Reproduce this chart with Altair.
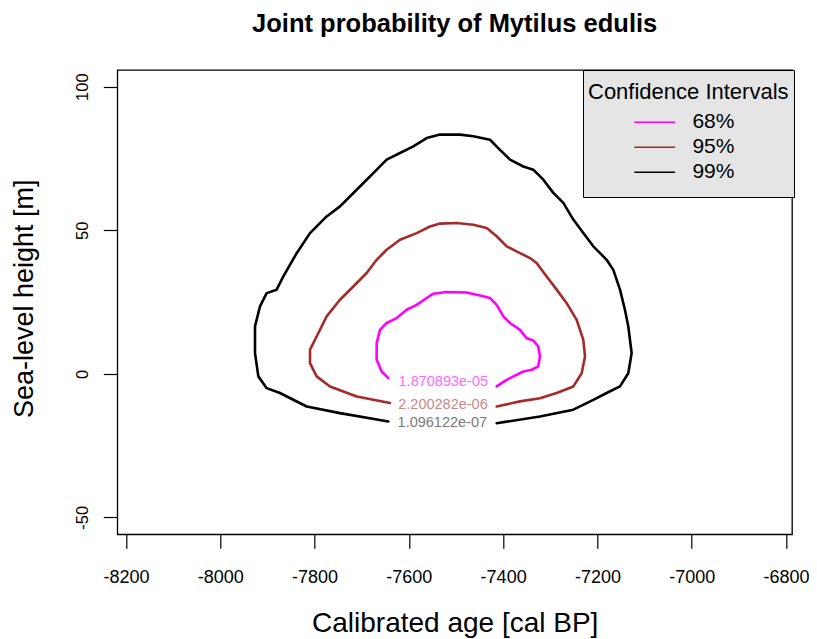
import altair as alt
import pandas as pd

# ---------------- data ----------------
levels = ["68%", "95%", "99%"]
line_colors = ["#ff00ff", "#a52a2a", "#000000"]

c68_x = [-7643.5, -7657.7, -7668.3, -7668.3, -7661.2, -7647.1, -7625.9, -7604.6, -7583.4,
         -7562.2, -7548.1, -7519.8, -7477.4, -7449.1, -7427.9, -7413.7, -7399.6, -7385.4,
         -7364.2, -7350.1, -7336.0, -7325.4, -7321.8, -7325.4, -7339.5, -7357.2, -7392.5, -7413.7]
c68_y = [-1.5, 0.8, 4.9, 10.7, 15.3, 17.7, 19.4, 22.3, 24.0,
         26.4, 27.9, 28.5, 28.3, 27.3, 26.4, 24.0, 20.0, 17.7,
         15.3, 12.4, 11.6, 9.5, 6.0, 2.6, 1.4, 0.8, -2.1, -4.4]

c95_x = [-7640.0, -7710.7, -7767.3, -7795.6, -7809.7, -7809.7, -7795.6, -7774.4, -7746.1,
         -7717.8, -7689.5, -7668.3, -7647.1, -7618.8, -7583.4, -7555.2, -7533.9, -7498.6,
         -7463.2, -7434.9, -7413.7, -7392.5, -7364.2, -7343.0, -7328.9, -7307.7, -7286.4,
         -7265.2, -7244.0, -7229.9, -7226.3, -7233.4, -7251.1, -7286.4, -7321.8, -7364.2, -7413.7]
c95_y = [-10.2, -7.9, -4.4, -0.9, 3.7, 8.4, 13.0, 20.0, 25.8,
         30.4, 35.1, 39.7, 43.2, 46.7, 49.0, 51.3, 52.3, 52.5,
         51.9, 50.8, 47.9, 44.4, 42.0, 40.3, 38.6, 33.9, 29.3,
         24.6, 18.8, 11.8, 6.0, 0.2, -4.4, -6.7, -8.5, -9.6, -11.4]

c99_x = [-7643.5, -7746.1, -7816.8, -7873.4, -7901.6, -7919.3, -7926.4, -7926.4, -7915.8,
         -7901.6, -7880.4, -7866.3, -7838.0, -7809.7, -7774.4, -7746.1, -7710.7, -7675.4,
         -7647.1, -7618.8, -7590.5, -7562.2, -7533.9, -7491.5, -7463.2, -7427.9, -7406.7,
         -7385.4, -7357.2, -7336.0, -7314.7, -7293.5, -7272.3, -7251.1, -7229.9, -7208.7,
         -7180.4, -7166.3, -7152.1, -7141.6, -7134.5, -7127.4, -7134.5, -7152.1, -7180.4,
         -7208.7, -7251.1, -7321.8, -7413.7]
c99_y = [-16.6, -13.7, -11.4, -6.7, -5.0, -0.9, 7.2, 16.5, 23.5,
         28.1, 29.3, 33.9, 42.0, 49.0, 54.8, 58.3, 64.1, 69.9,
         74.6, 76.9, 79.2, 82.1, 83.3, 83.3, 82.7, 81.5, 78.0,
         74.6, 72.2, 71.1, 67.6, 63.0, 59.5, 53.7, 49.0, 44.4,
         39.7, 36.2, 29.3, 22.3, 16.5, 7.2, 0.2, -4.4, -6.7,
         -9.1, -12.5, -14.9, -17.2]

label_text = ["1.870893e-05", "2.200282e-06", "1.096122e-07"]
label_x = [-7526.9, -7527.6, -7529.0]
label_y = [-2.9, -10.7, -17.0]
label_colors = ["#ff6bff", "#c88a8a", "#7a7a7a"]

x_ticks = [-8200, -8000, -7800, -7600, -7400, -7200, -7000, -6800]
y_ticks = [-50, 0, 50, 100]
x_domain = [-8218.5, -6787.2]
y_domain = [-55.9, 105.8]

# ---------------- tables ----------------
rows = []
for lev, xs, ys in zip(levels, [c68_x, c95_x, c99_x], [c68_y, c95_y, c99_y]):
    for i, (xv, yv) in enumerate(zip(xs, ys)):
        rows.append({"x": xv, "y": yv, "level": lev, "order": i})
df = pd.DataFrame(rows)

lab_df = pd.DataFrame({"x": label_x, "y": label_y, "text": label_text, "color": label_colors})

FONT = "Liberation Sans"

x_enc = alt.X(
    "x:Q",
    scale=alt.Scale(domain=x_domain, nice=False, zero=False),
    axis=alt.Axis(
        values=x_ticks, title="Calibrated age [cal BP]", labelExpr="'' + datum.value",
        labelFontSize=18, labelBaseline="alphabetic", labelPadding=34.4,
        titleFontSize=28, titleX=337.4, titleY=97.2, titleBaseline="alphabetic", titleAlign="center",
    ),
)
y_enc = alt.Y(
    "y:Q",
    scale=alt.Scale(domain=y_domain, nice=False, zero=False),
    axis=alt.Axis(
        values=y_ticks, title="Sea-level height [m]", labelExpr="'' + datum.value",
        labelFontSize=16.5, labelAngle=270, labelAlign="center", labelBaseline="alphabetic",
        labelPadding=16,
        titleFontSize=27, titleAngle=270, titleX=-85, titleY=228.3,
        titleBaseline="alphabetic", titleAlign="center",
    ),
)

short_stroke = "M-1.457,0H1.457"
last_stroke = "M-1.457,0H1.457M0,1.12"
shape_expr = f"datum.value === '{levels[-1]}' ? '{last_stroke}' : '{short_stroke}'"

lines = alt.Chart(df).mark_line(strokeWidth=2.6, strokeJoin="round", strokeCap="round").encode(
    x=x_enc,
    y=y_enc,
    color=alt.Color(
        "level:N",
        scale=alt.Scale(domain=levels, range=line_colors),
        legend=alt.Legend(
            title="Confidence Intervals",
            orient="none", legendX=465.7, legendY=0,
            padding=5, fillColor="#e5e5e5", strokeColor="black",
            titleFont=FONT, titleFontSize=22, titleFontWeight="normal", titleColor="black",
            titleBaseline="line-top", titleLineHeight=36, titlePadding=10.3, titleLimit=320,
            labelFont=FONT, labelFontSize=21, labelColor="black",
            symbolType=alt.ExprRef(expr=shape_expr), symbolSize=784, symbolStrokeWidth=1.6,
            symbolOffset=51.7, labelOffset=22.7, rowPadding=0,
        ),
    ),
    detail="level:N",
    order="order:Q",
)

labels = alt.Chart(lab_df).mark_text(font=FONT, fontSize=14.5, baseline="middle", align="center").encode(
    x=x_enc,
    y=y_enc,
    text="text:N",
    color=alt.Color("color:N", scale=None),
)

chart = alt.layer(lines, labels).properties(
    width=674.7,
    height=464.3,
    title=alt.TitleParams(
        text="Joint probability of Mytilus edulis", font=FONT, fontSize=25.5, fontWeight="bold",
        color="black", anchor="middle", frame="group", baseline="alphabetic", offset=12,
    ),
    padding={"left": 109.3, "top": 62, "right": 17, "bottom": 104.7},
    autosize=alt.AutoSizeParams(type="none"),
).configure_view(
    stroke="black", strokeWidth=1.3
).configure_axis(
    domain=False, grid=False, tickSize=14, tickColor="black", tickWidth=1.2,
    labelFont=FONT, labelColor="black", titleFont=FONT, titleColor="black",
    titleFontWeight="normal", labelFlush=False, labelOverlap=False, labelBound=False,
)

chart.save("out.html", embed_options={"renderer": "svg", "actions": False})
